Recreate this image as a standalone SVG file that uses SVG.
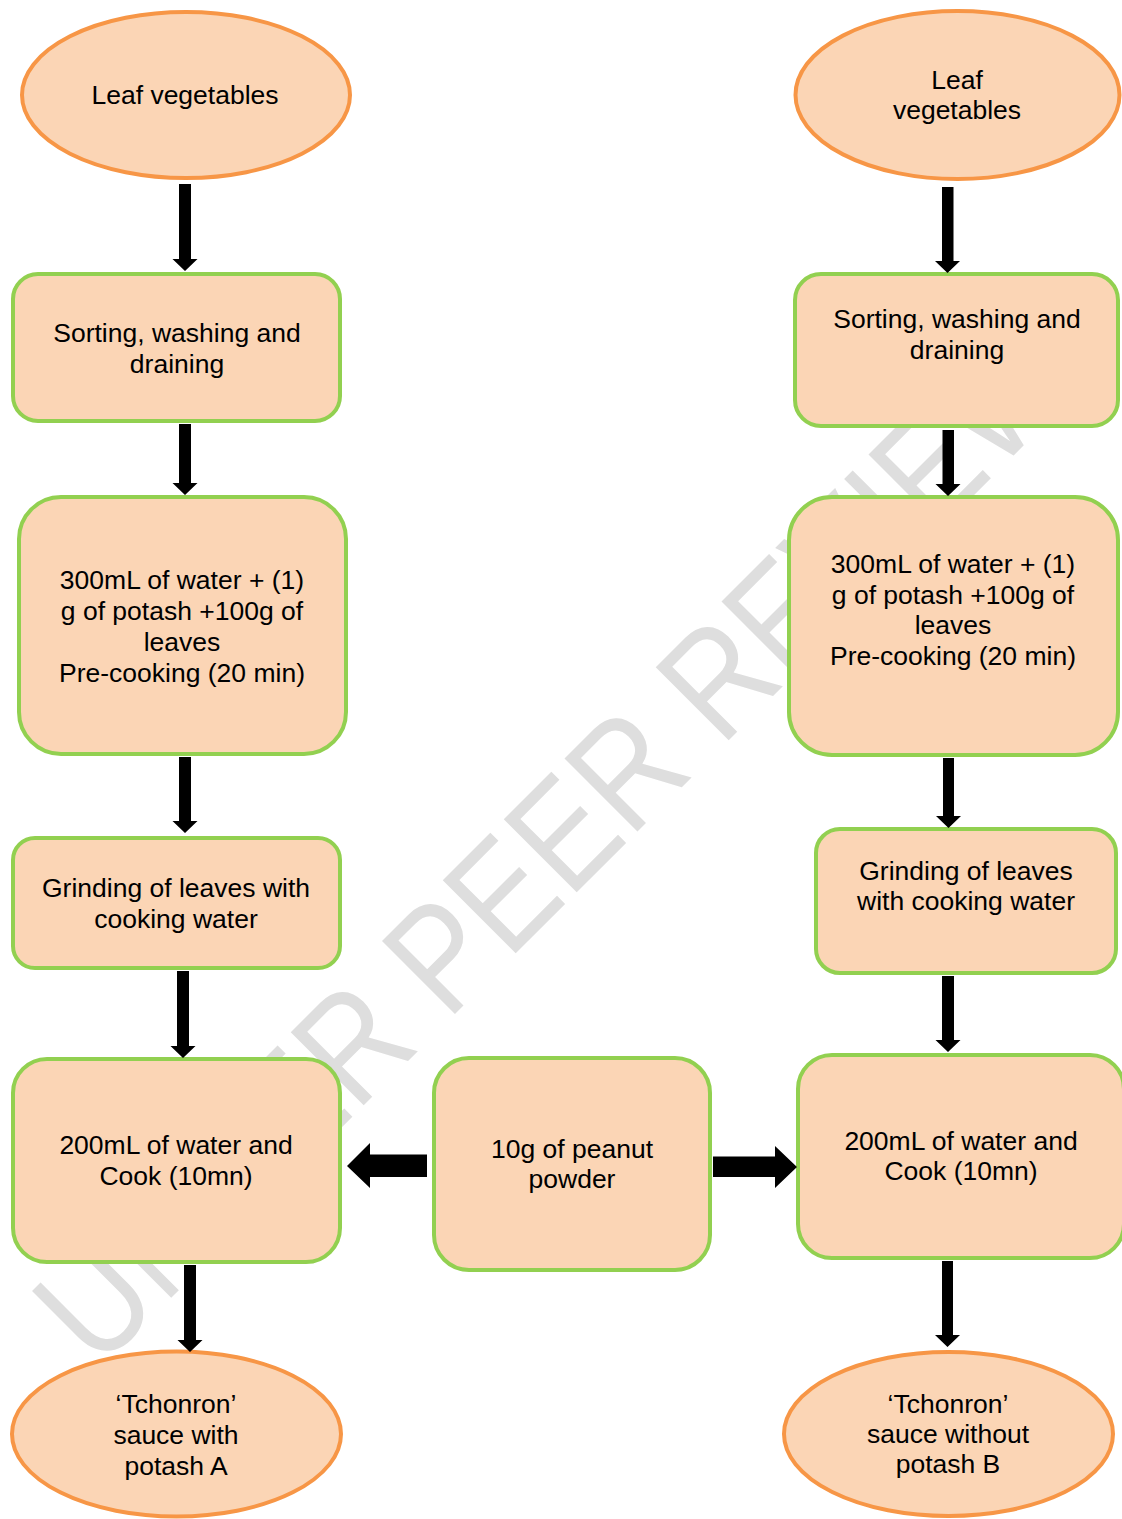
<svg xmlns="http://www.w3.org/2000/svg" width="1122" height="1519" viewBox="0 0 1122 1519">
<style>
.bg{fill:#ffffff}
.wm{fill:#dedede;font-family:"Liberation Sans",Arial,sans-serif;font-size:150px}
.term{fill:#fbd5b5;stroke:#f79646;stroke-width:4}
.step{fill:#fbd5b5;stroke:#92d050;stroke-width:4}
.lbl{fill:#000;font-family:"Liberation Sans",Arial,sans-serif;font-size:26.5px;text-anchor:middle}
.arr{fill:#000;stroke:none}
</style>
<rect class="bg" x="0" y="0" width="1122" height="1519"/>
<g id="watermark">
<text class="wm" x="0" y="0" transform="translate(98,1371) rotate(-45)" textLength="1390" lengthAdjust="spacingAndGlyphs">UNDER PEER REVIEW</text>
</g>
<g id="left-leaf">
<ellipse class="term" cx="186" cy="95" rx="164" ry="83"/>
<text class="lbl" x="185" y="104">Leaf vegetables</text>
</g>
<g id="left-sorting">
<rect class="step" x="13" y="274" width="327" height="147" rx="25"/>
<text class="lbl" x="177" y="342">Sorting, washing and</text>
<text class="lbl" x="177" y="373">draining</text>
</g>
<g id="left-precooking">
<rect class="step" x="19" y="497" width="327" height="257" rx="42"/>
<text class="lbl" x="182" y="589">300mL of water + (1)</text>
<text class="lbl" x="182" y="620">g of potash +100g of</text>
<text class="lbl" x="182" y="651">leaves</text>
<text class="lbl" x="182" y="682">Pre-cooking (20 min)</text>
</g>
<g id="left-grinding">
<rect class="step" x="13" y="838" width="327" height="130" rx="22"/>
<text class="lbl" x="176" y="897">Grinding of leaves with</text>
<text class="lbl" x="176" y="928">cooking water</text>
</g>
<g id="left-cook">
<rect class="step" x="13" y="1059" width="327" height="203" rx="34"/>
<text class="lbl" x="176" y="1154">200mL of water and</text>
<text class="lbl" x="176" y="1185">Cook (10mn)</text>
</g>
<g id="left-sauce">
<ellipse class="term" cx="176.5" cy="1434" rx="164.5" ry="82.5"/>
<text class="lbl" x="176" y="1413">‘Tchonron’</text>
<text class="lbl" x="176" y="1444">sauce with</text>
<text class="lbl" x="176" y="1475">potash A</text>
</g>
<g id="peanut">
<rect class="step" x="434" y="1058" width="276" height="212" rx="35"/>
<text class="lbl" x="572" y="1158">10g of peanut</text>
<text class="lbl" x="572" y="1188">powder</text>
</g>
<g id="right-leaf">
<ellipse class="term" cx="957.5" cy="95" rx="162" ry="84"/>
<text class="lbl" x="957" y="89">Leaf</text>
<text class="lbl" x="957" y="119">vegetables</text>
</g>
<g id="right-sorting">
<rect class="step" x="795" y="274" width="323" height="152" rx="26"/>
<text class="lbl" x="957" y="328">Sorting, washing and</text>
<text class="lbl" x="957" y="359">draining</text>
</g>
<g id="right-precooking">
<rect class="step" x="789" y="497" width="329" height="258" rx="43"/>
<text class="lbl" x="953" y="573">300mL of water + (1)</text>
<text class="lbl" x="953" y="604">g of potash +100g of</text>
<text class="lbl" x="953" y="634">leaves</text>
<text class="lbl" x="953" y="665">Pre-cooking (20 min)</text>
</g>
<g id="right-grinding">
<rect class="step" x="816" y="829" width="300" height="144" rx="24"/>
<text class="lbl" x="966" y="880">Grinding of leaves</text>
<text class="lbl" x="966" y="910">with cooking water</text>
</g>
<g id="right-cook">
<rect class="step" x="798" y="1055" width="326" height="203" rx="34"/>
<text class="lbl" x="961" y="1150">200mL of water and</text>
<text class="lbl" x="961" y="1180">Cook (10mn)</text>
</g>
<g id="right-sauce">
<ellipse class="term" cx="948.5" cy="1434" rx="164.5" ry="82"/>
<text class="lbl" x="948" y="1413">‘Tchonron’</text>
<text class="lbl" x="948" y="1443">sauce without</text>
<text class="lbl" x="948" y="1473">potash B</text>
</g>
<g id="connectors">
<path class="arr" d="M179,184 L191,184 L191,259 L197.5,259 L185,271 L172.5,259 L179,259 Z"/>
<path class="arr" d="M179,424 L191,424 L191,483 L197.5,483 L185,495 L172.5,483 L179,483 Z"/>
<path class="arr" d="M179,757 L191,757 L191,821 L197.5,821 L185,833 L172.5,821 L179,821 Z"/>
<path class="arr" d="M177,971 L189,971 L189,1046 L195.5,1046 L183,1058 L170.5,1046 L177,1046 Z"/>
<path class="arr" d="M184,1265 L196,1265 L196,1340 L202.5,1340 L190,1352 L177.5,1340 L184,1340 Z"/>
<path class="arr" d="M942,187 L953.5,187 L953.5,261 L960,261 L947.5,273 L935,261 L942,261 Z"/>
<path class="arr" d="M942.5,430 L954,430 L954,484 L960.5,484 L948,496 L935.5,484 L942.5,484 Z"/>
<path class="arr" d="M943,758 L954,758 L954,816 L961,816 L948.5,828 L936,816 L943,816 Z"/>
<path class="arr" d="M942,976 L954,976 L954,1040 L960.5,1040 L948,1052 L935.5,1040 L942,1040 Z"/>
<path class="arr" d="M942,1261 L953,1261 L953,1335 L960,1335 L947.5,1347 L935,1335 L942,1335 Z"/>
<path class="arr" d="M427,1154.5 L427,1177 L370,1177 L370,1188 L347,1166 L370,1143 L370,1154.5 Z"/>
<path class="arr" d="M713,1156.5 L713,1177 L775,1177 L775,1188 L797,1167 L775,1146 L775,1156.5 Z"/>
</g>
</svg>
